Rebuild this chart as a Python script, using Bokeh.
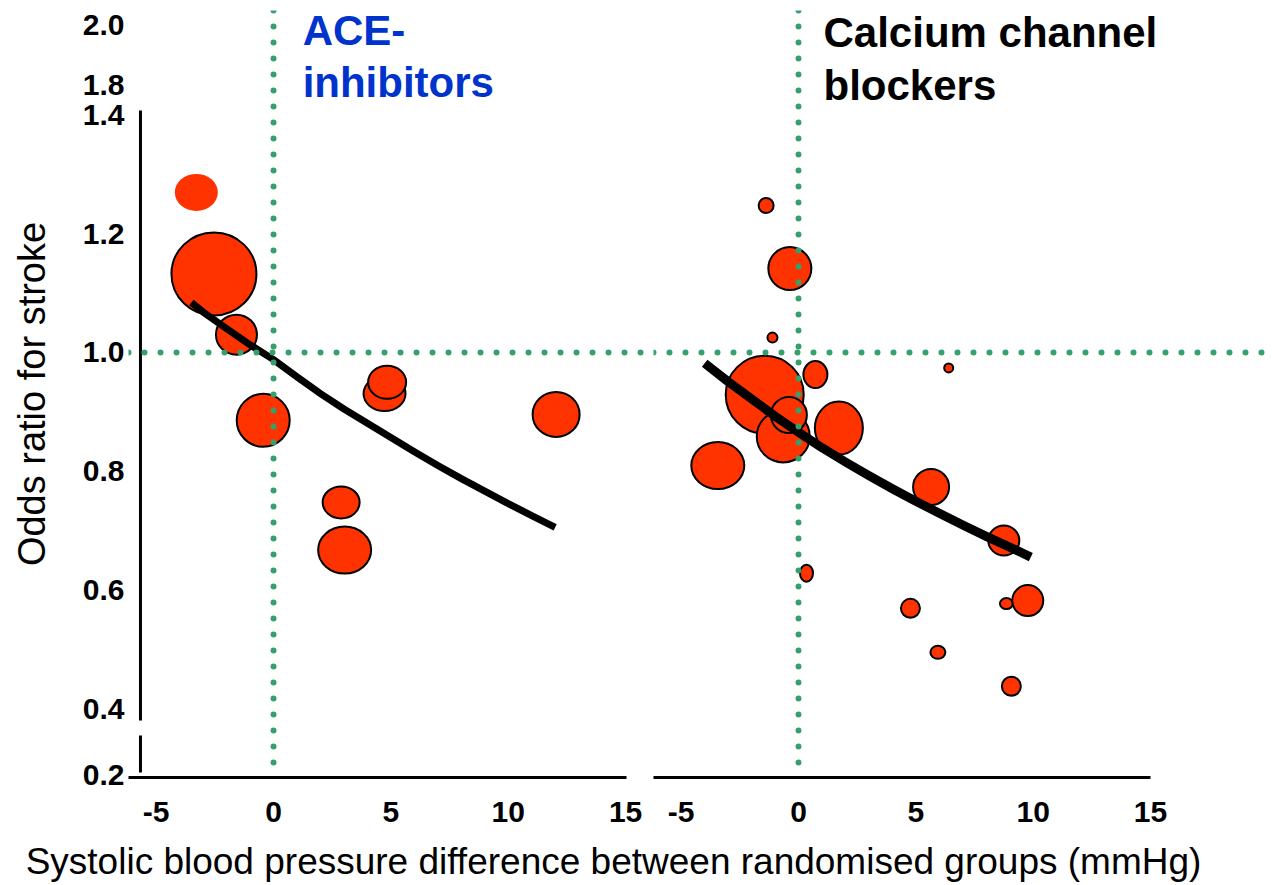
from bokeh.plotting import figure
from bokeh.models import Range1d, FixedTicker, Span, Label, ColumnDataSource
from bokeh.layouts import column, row
from bokeh.embed import file_html
from bokeh.resources import INLINE

# ---------------- data ----------------
y_tick_pos = [0.29, 0.4, 0.6, 0.8, 1.0, 1.2, 1.4, 1.45, 1.55]
y_tick_labels = ["0.2", "0.4", "0.6", "0.8", "1.0", "1.2", "1.4", "1.8", "2.0"]
x_ticks = [-5, 0, 5, 10, 15]
x_tick_labels = ["-5", "0", "5", "10", "15"]

# ACE-inhibitor trials: BP difference (mmHg), odds ratio, bubble size (px)
ace_bp = [-3.29, -2.54, -1.58, -0.44, 4.73, 4.84, 12.04, 2.88, 3.03]
ace_or = [1.269, 1.132, 1.030, 0.886, 0.931, 0.950, 0.896, 0.748, 0.668]
ace_w = [43, 85, 41, 53, 42, 38, 47, 37, 53]
ace_h = [37, 83, 40, 53, 35, 33, 45, 32, 47]
ace_outline = [0, 1, 1, 1, 1, 1, 1, 1, 1]

ace_fit_bp = [-3.5, -3, -2, -1, 0, 1, 2, 3, 4, 5, 6, 7, 8, 9, 10, 11, 12]
ace_fit_or = [1.084, 1.068, 1.040, 1.013, 0.988, 0.959, 0.931, 0.905, 0.881,
              0.857, 0.833, 0.810, 0.788, 0.767, 0.746, 0.726, 0.706]

# Calcium channel blocker trials
ccb_bp = [-1.38, -0.37, -1.11, -1.44, -0.65, -0.41, 0.72, 1.72, -3.44,
          6.40, 5.65, 8.75, 0.34, 4.77, 5.94, 8.86, 9.77, 9.07]
ccb_or = [1.247, 1.141, 1.025, 0.929, 0.859, 0.895, 0.963, 0.873, 0.810,
          0.974, 0.774, 0.684, 0.629, 0.570, 0.496, 0.578, 0.583, 0.439]
ccb_w = [15, 43, 10, 78, 53, 36, 24, 48, 53, 9, 36, 31, 13, 19, 15, 13, 31, 19]
ccb_h = [15, 43, 10, 78, 52, 36, 27, 53, 47, 9, 36, 30, 17, 19, 13, 11, 31, 19]

ccb_fit_bp = [-4, -3, -2, -1, 0, 1, 2, 3, 4, 5, 6, 7, 8, 9, 9.9]
ccb_fit_or = [0.982, 0.951, 0.922, 0.893, 0.866, 0.840, 0.816, 0.793, 0.771,
              0.750, 0.730, 0.710, 0.691, 0.673, 0.656]

# ---------------- style ----------------
FONT = "Liberation Sans"
GREEN = "#36a06c"
FILL = "#ff3300"
BLUE = "#0033cc"

y_range = Range1d(0.2857, 1.5748)


def base(fig):
    fig.xgrid.visible = False
    fig.ygrid.visible = False
    fig.outline_line_color = None
    fig.background_fill_color = "white"
    fig.border_fill_color = "white"
    ax = fig.xaxis[0]
    ax.ticker = FixedTicker(ticks=x_ticks)
    ax.major_label_overrides = {t: l for t, l in zip(x_ticks, x_tick_labels)}
    ax.bounds = (-6.18, 15.02)
    ax.axis_line_width = 3
    ax.axis_line_color = "black"
    ax.major_tick_line_color = None
    ax.minor_tick_line_color = None
    ax.major_tick_out = 0
    ax.major_tick_in = 0
    ax.major_label_standoff = 24
    ax.major_label_text_font = FONT
    ax.major_label_text_font_style = "bold"
    ax.major_label_text_font_size = "30px"
    ax.major_label_text_color = "black"
    fig.add_layout(Span(location=0, dimension="height", line_color=GREEN,
                        line_width=6, line_dash="0 16", line_cap="round"))
    fig.add_layout(Span(location=1.0, dimension="width", line_color=GREEN,
                        line_width=6, line_dash="0 16", line_cap="round"))


# ---------------- left panel: ACE inhibitors ----------------
left = figure(width=653, height=835, x_range=Range1d(-6.18, 16.19), y_range=y_range,
              output_backend="svg", toolbar_location=None,
              min_border_left=128, min_border_right=0, min_border_top=10, min_border_bottom=58)
base(left)
yax = left.yaxis[0]
yax.ticker = FixedTicker(ticks=y_tick_pos)
yax.major_label_overrides = {p: l for p, l in zip(y_tick_pos, y_tick_labels)}
yax.axis_line_color = None
yax.major_tick_line_color = None
yax.minor_tick_line_color = None
yax.major_tick_out = 0
yax.major_tick_in = 0
yax.major_label_standoff = 4
yax.major_label_text_font = FONT
yax.major_label_text_font_style = "bold"
yax.major_label_text_font_size = "30px"
yax.major_label_text_color = "black"
yax.axis_label = "Odds ratio for stroke"
yax.axis_label_text_font = FONT
yax.axis_label_text_font_style = "normal"
yax.axis_label_text_font_size = "38px"
yax.axis_label_text_color = "black"
yax.axis_label_standoff = 27

# broken y-axis line
left.segment(x0=[-5.67, -5.67], y0=[0.3815, 0.2941], x1=[-5.67, -5.67], y1=[1.4067, 0.3563],
             line_color="black", line_width=3)

ace_src = ColumnDataSource(dict(x=ace_bp, y=ace_or, w=ace_w, h=ace_h, la=ace_outline))
left.ellipse(x="x", y="y", width="w", height="h", width_units="screen", height_units="screen",
             source=ace_src, fill_color=FILL, line_color="black", line_alpha="la", line_width=2)
left.line(ace_fit_bp, ace_fit_or, line_color="black", line_width=7, line_join="round")

left.add_layout(Label(x=1.24, y=1.541, text="ACE-", text_font=FONT, text_font_style="bold",
                      text_font_size="42px", text_color=BLUE, text_baseline="alphabetic"))
left.add_layout(Label(x=1.24, y=1.453, text="inhibitors", text_font=FONT, text_font_style="bold",
                      text_font_size="42px", text_color=BLUE, text_baseline="alphabetic"))

# ---------------- right panel: Calcium channel blockers ----------------
right = figure(width=623, height=835, x_range=Range1d(-6.18, 20.37), y_range=y_range,
               output_backend="svg", toolbar_location=None, y_axis_location=None,
               min_border_left=0, min_border_right=0, min_border_top=10, min_border_bottom=58)
base(right)

ccb_src = ColumnDataSource(dict(x=ccb_bp, y=ccb_or, w=ccb_w, h=ccb_h))
right.ellipse(x="x", y="y", width="w", height="h", width_units="screen", height_units="screen",
              source=ccb_src, fill_color=FILL, line_color="black", line_width=2)
right.line(ccb_fit_bp, ccb_fit_or, line_color="black", line_width=9, line_join="round")

right.add_layout(Label(x=1.065, y=1.538, text="Calcium channel", text_font=FONT, text_font_style="bold",
                       text_font_size="42px", text_color="black", text_baseline="alphabetic"))
right.add_layout(Label(x=1.065, y=1.448, text="blockers", text_font=FONT, text_font_style="bold",
                       text_font_size="42px", text_color="black", text_baseline="alphabetic"))

# ---------------- shared x-axis title ----------------
strip = figure(width=1276, height=50, x_range=Range1d(0, 1276), y_range=Range1d(0, 50),
               output_backend="svg", toolbar_location=None,
               x_axis_location=None, y_axis_location=None, min_border=0)
strip.grid.visible = False
strip.outline_line_color = None
strip.add_layout(Label(x=613, y=24, text="Systolic blood pressure difference between randomised groups (mmHg)",
                       text_font=FONT, text_font_size="37px", text_color="black",
                       text_align="center", text_baseline="middle"))

layout = column(row(left, right, spacing=0), strip, spacing=0)

with open("out.html", "w") as f:
    f.write(file_html(layout, INLINE))
